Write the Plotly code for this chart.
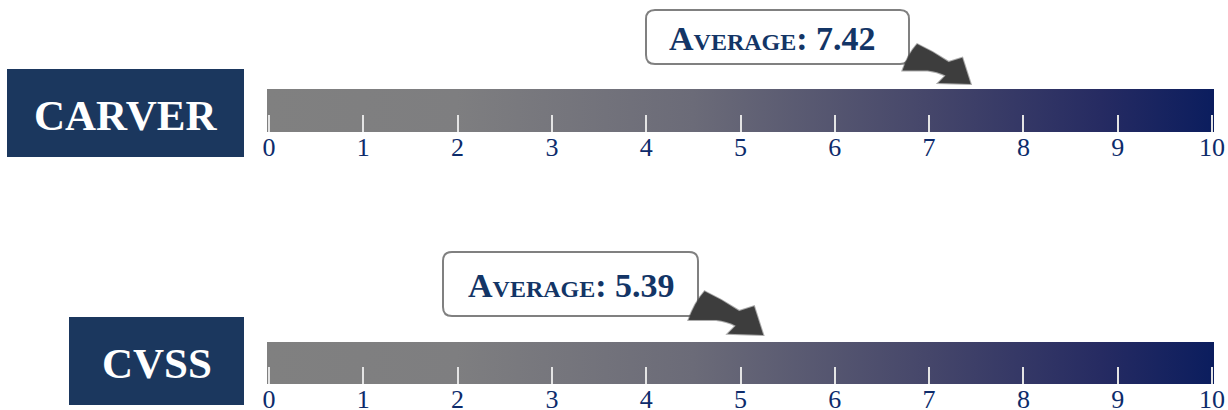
import plotly.graph_objects as go

# ---------------- data ----------------
methods = ["CARVER", "CVSS"]
averages = [7.42, 5.39]
scale_min, scale_max = 0, 10
tick_values = [0, 1, 2, 3, 4, 5, 6, 7, 8, 9, 10]
tick_labels = ["0", "1", "2", "3", "4", "5", "6", "7", "8", "9", "10"]

# ---------------- style ----------------
W, H = 1228, 410
SERIF = "Liberation Serif, Times New Roman, serif"
NAVY_BOX = "#1b375e"
TICK_TXT = "#0d2b6b"
AVG_TXT = "#133566"
PAD = 0.021
bar_px = [(89, 132), (342, 384)]          # top/bottom pixel rows of each bar
label_box = [(7, 69, 244, 157), (69, 317, 244, 405)]
callout_box = [(646, 10, 909, 64), (443, 252, 698, 316)]
callout_text_c = [(773, 39), (571, 285)]
arrow_dx = [2, -14]
arrow_dy = [5, 7]
arrow_scale = [1.05, 1.15]
grad = [[0.0, "#808080"], [0.2, "#7e7e80"], [0.45, "#6b6b78"],
        [0.7, "#45466a"], [0.88, "#262b62"], [1.0, "#0b1d5e"]]

x_dom = [267 / W, 1214 / W]

fig = go.Figure()
layout = dict(width=W, height=H, margin=dict(l=0, r=0, t=0, b=0, autoexpand=False),
              paper_bgcolor="white", plot_bgcolor="rgba(0,0,0,0)",
              showlegend=False, shapes=[], annotations=[])


def rounded(x0, y0, x1, y1, r):
    Y0, Y1 = -y0, -y1
    return (f"M {x0+r} {Y0} L {x1-r} {Y0} Q {x1} {Y0} {x1} {Y0-r} "
            f"L {x1} {Y1+r} Q {x1} {Y1} {x1-r} {Y1} L {x0+r} {Y1} "
            f"Q {x0} {Y1} {x0} {Y1+r} L {x0} {Y0-r} Q {x0} {Y0} {x0+r} {Y0} Z")


def arrow_path(s, dx, dy):
    def P(x, y):
        return f"{x * s + dx:.1f} {y * s + dy:.1f}"
    return (f"M {P(0, 0)} L {P(-31, 1)} L {P(-24, 8)} "
            f"Q {P(-32, 12)} {P(-41, 13)} L {P(-65, 13)} "
            f"Q {P(-60, 28)} {P(-51, 38)} Q {P(-36, 31)} {P(-21, 21)} "
            f"L {P(-8, 25)} Z")


for i, (name, avg) in enumerate(zip(methods, averages)):
    n = "" if i == 0 else str(i + 1)
    xa, ya = "x" + n, "y" + n
    top, bot = bar_px[i]
    fig.add_trace(go.Scatter(
        x=[scale_min - PAD, scale_max + PAD, scale_max + PAD, scale_min - PAD, scale_min - PAD],
        y=[0, 0, 1, 1, 0], mode="lines", fill="toself",
        line=dict(width=0, color="rgba(0,0,0,0)"),
        fillgradient=dict(type="horizontal", colorscale=grad),
        hoverinfo="skip", xaxis=xa, yaxis=ya))
    layout["xaxis" + n] = dict(
        domain=x_dom, range=[scale_min - PAD, scale_max + PAD], anchor=ya,
        tickvals=tick_values, ticktext=tick_labels, ticks="inside",
        ticklen=17, tickwidth=2, tickcolor="#e4e4e4",
        showgrid=False, zeroline=False, showline=False, automargin=False,
        tickfont=dict(family=SERIF, size=26, color=TICK_TXT),
        ticklabelstandoff=-3, fixedrange=True)
    layout["yaxis" + n] = dict(
        domain=[1 - bot / H, 1 - top / H], range=[0, 1], visible=False,
        automargin=False, fixedrange=True, anchor=xa)

    bx0, by0, bx1, by1 = label_box[i]
    layout["shapes"].append(dict(
        type="rect", xref="paper", yref="paper", x0=bx0 / W, x1=bx1 / W,
        y0=1 - by1 / H, y1=1 - by0 / H, fillcolor=NAVY_BOX, line=dict(width=0)))
    layout["annotations"].append(dict(
        text=f"<b>{name}</b>", xref="paper", yref="paper",
        x=(bx0 + bx1) / 2 / W, y=1 - ((by0 + by1) / 2 + 2) / H,
        xanchor="center", yanchor="middle", showarrow=False,
        font=dict(family=SERIF, size=43, color="white")))

    cx0, cy0, cx1, cy1 = callout_box[i]
    layout["shapes"].append(dict(
        type="path", xref="paper", yref="paper", xsizemode="pixel", ysizemode="pixel",
        xanchor=0, yanchor=1, path=rounded(cx0, cy0, cx1, cy1, 9),
        fillcolor="white", line=dict(color="#808080", width=2)))
    tx, ty = callout_text_c[i]
    layout["annotations"].append(dict(
        text=f"<b>Average: {avg:.2f}</b>", xref="paper", yref="paper",
        x=tx / W, y=1 - ty / H, xanchor="center", yanchor="middle", showarrow=False,
        font=dict(family=SERIF, size=34, color=AVG_TXT, variant="small-caps")))

    # arrow pointing at the average on the scale (x via the axis scale)
    layout["shapes"].append(dict(
        type="path", xref=xa, yref="paper", xsizemode="pixel", ysizemode="pixel",
        xanchor=avg, yanchor=1 - top / H,
        path=arrow_path(arrow_scale[i], arrow_dx[i], arrow_dy[i]),
        fillcolor="#3d3d3d", line=dict(color="rgba(70,70,70,0.45)", width=2)))

fig.update_layout(**layout)
fig.write_html("out.html")
